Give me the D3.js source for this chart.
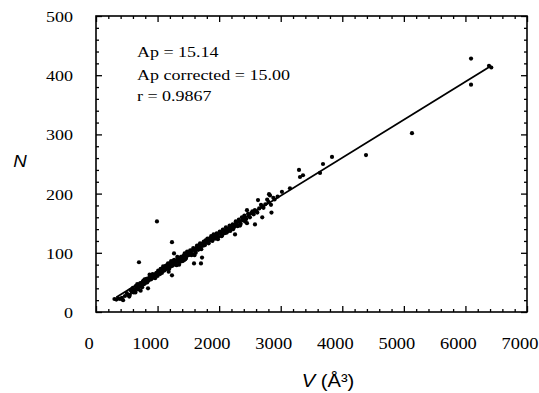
<!DOCTYPE html>
<html>
<head>
<meta charset="utf-8">
<script src="https://cdn.jsdelivr.net/npm/d3@7"></script>
<style>
  body { margin: 0; background: #fff; }
</style>
</head>
<body>
<div id="chart"></div>
<script>
// tick values
const xTicks = [0, 1000, 2000, 3000, 4000, 5000, 6000, 7000];
const yTicks = [0, 100, 200, 300, 400, 500];

// annotation lines
const notes = ['Ap = 15.14', 'Ap corrected = 15.00', 'r = 0.9867'];

// fitted line ends (V, N)
const fitV = [330, 6420];
const fitN = [25, 416];

// measured points: [V (Å³), N]
const points = [
  [300, 22], [330, 21], [360, 23], [390, 22], [420, 24], [440, 20], [470, 27], [500, 32],
  [520, 29], [540, 26], [550, 29], [560, 37], [580, 34], [590, 39], [600, 41], [610, 33],
  [620, 37], [640, 33], [650, 44], [660, 40], [670, 47], [680, 38], [690, 46], [698, 84],
  [700, 42], [710, 44], [720, 49], [725, 36], [740, 45], [750, 42], [760, 51], [770, 53],
  [780, 47], [790, 55], [800, 49], [810, 53], [820, 56], [830, 50], [840, 52], [845, 40],
  [850, 57], [860, 54], [870, 63], [880, 60], [890, 55], [900, 56], [910, 62], [920, 64],
  [930, 58], [940, 60], [950, 63], [960, 57], [970, 62], [980, 66], [990, 153], [1000, 61],
  [1010, 70], [1020, 68], [1030, 66], [1040, 64], [1050, 73], [1060, 72], [1070, 66], [1080, 69],
  [1090, 77], [1100, 75], [1110, 70], [1120, 72], [1130, 78], [1140, 75], [1150, 73], [1160, 80],
  [1170, 82], [1180, 76], [1180, 68], [1190, 73], [1200, 82], [1210, 77], [1220, 86], [1230, 84],
  [1234, 118], [1234, 62], [1240, 78], [1250, 80], [1260, 87], [1267, 99], [1270, 88], [1280, 83],
  [1290, 80], [1300, 86], [1310, 79], [1320, 93], [1330, 90], [1340, 84], [1350, 88], [1350, 80],
  [1360, 91], [1370, 85], [1380, 93], [1390, 90], [1400, 91], [1410, 86], [1420, 95], [1430, 88],
  [1440, 99], [1450, 97], [1450, 89], [1460, 91], [1470, 94], [1480, 102], [1490, 100], [1500, 96],
  [1510, 97], [1520, 102], [1530, 104], [1540, 99], [1550, 96], [1560, 104], [1570, 98], [1580, 108],
  [1590, 106], [1592, 82], [1600, 96], [1610, 103], [1620, 100], [1630, 108], [1640, 112], [1650, 111],
  [1660, 105], [1670, 107], [1680, 113], [1690, 116], [1700, 109], [1705, 82], [1710, 106], [1720, 115],
  [1722, 92], [1740, 112], [1750, 119], [1760, 117], [1770, 113], [1780, 121], [1790, 118], [1800, 118],
  [1810, 124], [1820, 120], [1830, 116], [1840, 124], [1860, 121], [1870, 128], [1880, 126], [1890, 120],
  [1900, 123], [1910, 131], [1920, 128], [1940, 124], [1950, 125], [1960, 133], [1970, 130], [1980, 123],
  [1990, 127], [2010, 136], [2020, 133], [2040, 128], [2050, 130], [2060, 139], [2070, 136], [2090, 133],
  [2100, 138], [2110, 143], [2120, 134], [2140, 136], [2150, 141], [2170, 146], [2180, 137], [2190, 139],
  [2200, 144], [2220, 148], [2230, 140], [2240, 143], [2250, 146], [2258, 131], [2270, 153], [2280, 150],
  [2290, 147], [2300, 145], [2320, 156], [2330, 152], [2340, 146], [2350, 149], [2370, 160], [2380, 155],
  [2400, 158], [2410, 163], [2420, 153], [2440, 157], [2452, 172], [2452, 150], [2470, 166], [2480, 162],
  [2500, 160], [2520, 167], [2540, 170], [2560, 165], [2580, 172], [2582, 148], [2600, 170], [2620, 168],
  [2631, 189], [2650, 175], [2680, 181], [2700, 178], [2700, 160], [2720, 176], [2750, 182], [2780, 190],
  [2800, 186], [2810, 199], [2826, 197], [2842, 181], [2850, 168], [2880, 193], [2900, 190], [2950, 195],
  [3020, 203], [3150, 209], [3297, 240], [3313, 228], [3362, 231], [3638, 235], [3687, 250], [3833, 262],
  [4385, 265], [5132, 302], [6091, 428], [6091, 384], [6383, 416], [6420, 413]
];

const width = 539, height = 393;
const plot = { left: 96, right: 527, top: 16, bottom: 312 };
const stretch = 1.2; // the scanned type is wider than it is tall

const svg = d3.select('#chart').append('svg')
  .attr('width', width)
  .attr('height', height);

const x = d3.scaleLinear().domain([0, 7000]).range([plot.left, plot.right]);
const y = d3.scaleLinear().domain([0, 500]).range([plot.bottom, plot.top]);

const serif = '"Liberation Serif", "Times New Roman", serif';
const sans = '"Liberation Sans", Arial, sans-serif';

function label(px, py, txt, opts) {
  const o = Object.assign({ anchor: 'start', size: 15, family: serif, style: 'normal', sx: stretch }, opts);
  return svg.append('text')
    .attr('transform', `translate(${px},${py}) scale(${o.sx},1)`)
    .attr('text-anchor', o.anchor)
    .attr('font-family', o.family)
    .attr('font-size', o.size)
    .attr('font-style', o.style)
    .attr('fill', '#000')
    .text(txt);
}

// inward ticks on all four sides
const xMinor = d3.range(0, 7001, 200).filter(v => !xTicks.includes(v));
const yMinor = d3.range(0, 501, 20).filter(v => !yTicks.includes(v));

function ticks(axisFn, scale, values, size, transform) {
  const g = svg.append('g')
    .attr('transform', transform)
    .call(axisFn(scale).tickValues(values).tickSize(-size).tickFormat(''));
  g.select('.domain').remove();
  g.selectAll('line').attr('stroke', '#000').attr('stroke-width', 1.3);
}

ticks(d3.axisBottom, x, xTicks, 6, `translate(0,${plot.bottom})`);
ticks(d3.axisBottom, x, xMinor, 3, `translate(0,${plot.bottom})`);
ticks(d3.axisTop, x, xTicks, 6, `translate(0,${plot.top})`);
ticks(d3.axisTop, x, xMinor, 3, `translate(0,${plot.top})`);
ticks(d3.axisLeft, y, yTicks, 6, `translate(${plot.left},0)`);
ticks(d3.axisLeft, y, yMinor, 3, `translate(${plot.left},0)`);
ticks(d3.axisRight, y, yTicks, 6, `translate(${plot.right},0)`);
ticks(d3.axisRight, y, yMinor, 3, `translate(${plot.right},0)`);

// frame
svg.append('rect')
  .attr('x', plot.left)
  .attr('y', plot.top)
  .attr('width', plot.right - plot.left)
  .attr('height', plot.bottom - plot.top)
  .attr('fill', 'none')
  .attr('stroke', '#000')
  .attr('stroke-width', 1.6);

// tick labels
xTicks.forEach(v => label(x(v) - 7, 349, d3.format('d')(v), { anchor: 'middle', size: 16, sx: 1.15 }));
yTicks.forEach(v => label(73, y(v) + 6, d3.format('d')(v), { anchor: 'end', size: 15 }));

// axis titles
label(20, 167, 'N', { anchor: 'middle', size: 17, family: sans, style: 'italic', sx: 1.1 });
const xt = label(328, 387, '', { anchor: 'middle', size: 18, family: sans, sx: 1.12 });
xt.append('tspan').attr('font-style', 'italic').text('V');
xt.append('tspan').text(' (Å³)');

// annotations
const noteY = [56.7, 80, 100.7];
notes.forEach((t, i) => label(137, noteY[i], t, { size: 15 }));

// fit line
const fit = fitV.map((v, i) => [v, fitN[i]]);
svg.append('path')
  .datum(fit)
  .attr('d', d3.line().x(d => x(d[0])).y(d => y(d[1])))
  .attr('stroke', '#000')
  .attr('stroke-width', 1.8)
  .attr('fill', 'none');

// points
svg.append('g')
  .selectAll('circle')
  .data(points)
  .join('circle')
  .attr('cx', d => x(d[0]))
  .attr('cy', d => y(d[1]))
  .attr('r', 2.1)
  .attr('fill', '#000');
</script>
</body>
</html>
